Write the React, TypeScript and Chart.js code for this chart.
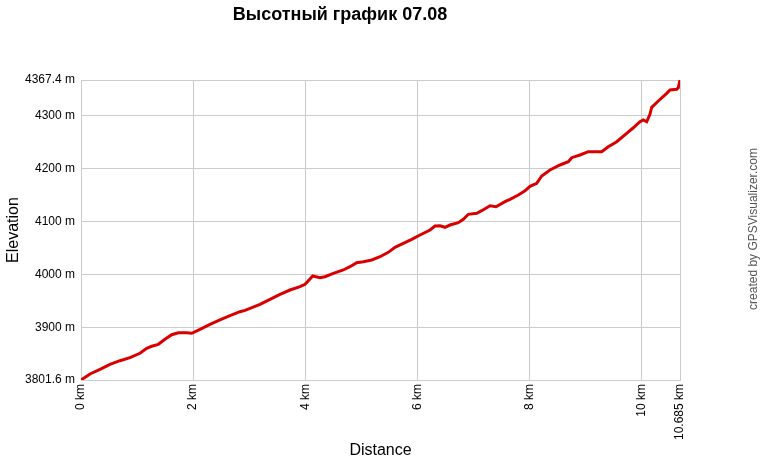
import React, { useEffect, useRef } from "react";
import { Chart, registerables } from "chart.js";

Chart.register(...registerables);

const titleText = "Высотный график 07.08";
const xTitle = "Distance";
const yTitle = "Elevation";
const watermark = "created by GPSVisualizer.com";

const distanceKm = [
  0, 0.161, 0.339, 0.517, 0.696, 0.874, 1.052, 1.172, 1.261, 1.379, 1.498, 1.618, 1.736, 1.885, 1.975,
  2.123, 2.301, 2.479, 2.658, 2.836, 2.925, 3.015, 3.193, 3.371, 3.55, 3.728, 3.907, 3.996, 4.085, 4.133,
  4.263, 4.352, 4.501, 4.679, 4.798, 4.918, 5.036, 5.186, 5.334, 5.482, 5.601, 5.749, 5.899, 6.047, 6.226,
  6.315, 6.404, 6.493, 6.582, 6.73, 6.82, 6.909, 7.059, 7.148, 7.296, 7.403, 7.563, 7.653, 7.801, 7.92,
  8.009, 8.129, 8.218, 8.366, 8.544, 8.693, 8.753, 8.901, 9.049, 9.169, 9.288, 9.406, 9.556, 9.734, 9.852,
  9.971, 10.03, 10.091, 10.149, 10.18, 10.298, 10.448, 10.507, 10.626, 10.655, 10.685,
];

const elevationM = [
  3801.6, 3812.9, 3821.8, 3831.2, 3838.0, 3843.7, 3852.0, 3861.4, 3865.2, 3868.9, 3878.4, 3887.0, 3890.8, 3890.8, 3889.7,
  3897.2, 3906.6, 3914.8, 3922.9, 3930.4, 3933.0, 3936.8, 3944.4, 3953.8, 3963.2, 3971.3, 3977.6, 3982.1, 3992.1, 3997.7,
  3994.5, 3996.4, 4002.8, 4009.1, 4015.3, 4022.8, 4024.7, 4027.9, 4034.1, 4042.4, 4051.9, 4059.4, 4066.9, 4075.1, 4084.5,
  4092.0, 4092.6, 4089.6, 4093.9, 4098.3, 4104.7, 4114.1, 4116.0, 4120.9, 4130.3, 4128.4, 4137.9, 4142.4, 4150.5, 4158.4,
  4166.9, 4172.6, 4186.3, 4197.7, 4207.1, 4213.3, 4220.9, 4226.0, 4232.2, 4232.2, 4232.2, 4241.6, 4251.0, 4266.9, 4277.3,
  4288.7, 4292.0, 4288.7, 4302.7, 4315.9, 4327.8, 4342.3, 4348.5, 4349.9, 4352.9, 4367.4,
];

const xTicks = [0, 2, 4, 6, 8, 10, 10.685];
const yTicks = [3801.6, 3900, 4000, 4100, 4200, 4300, 4367.4];

const FONT = "'Liberation Sans', Arial, sans-serif";

export default function App() {
  const canvasRef = useRef<HTMLCanvasElement | null>(null);

  useEffect(() => {
    document.body.style.margin = "0";
    const canvas = canvasRef.current;
    if (!canvas) return;

    const watermarkPlugin = {
      id: "watermark",
      afterDraw(chart: any) {
        const ctx = chart.ctx;
        ctx.save();
        ctx.translate(754, 229);
        ctx.rotate(-Math.PI / 2);
        ctx.font = `12px ${FONT}`;
        ctx.fillStyle = "#555555";
        ctx.textAlign = "center";
        ctx.textBaseline = "middle";
        ctx.fillText(watermark, 0, 0);
        ctx.restore();
      },
    };

    const chart = new Chart(canvas, {
      type: "line",
      data: {
        datasets: [
          {
            data: distanceKm.map((d, i) => ({ x: d, y: elevationM[i] })),
            borderColor: "#d80000",
            borderWidth: 3,
            pointRadius: 0,
            tension: 0,
            fill: false,
          },
        ],
      },
      options: {
        responsive: false,
        animation: false,
        layout: { padding: { left: 0, right: 80, top: 0, bottom: 0 } },
        plugins: {
          legend: { display: false },
          tooltip: { enabled: false },
          title: {
            display: true,
            text: titleText,
            color: "#000",
            font: { family: FONT, size: 18, weight: "bold" },
            padding: { top: 4, bottom: 54.4 },
          },
        },
        scales: {
          x: {
            type: "linear",
            min: 0,
            max: 10.685,
            afterBuildTicks: (scale: any) => {
              scale.ticks = xTicks.map((v) => ({ value: v }));
            },
            afterFit: (scale: any) => {
              scale.height = 80;
            },
            grid: { color: "#cccccc", drawTicks: false, lineWidth: 1 },
            border: { color: "#cccccc" },
            ticks: {
              autoSkip: false,
              minRotation: 90,
              maxRotation: 90,
              padding: 4,
              color: "#000",
              font: { family: FONT, size: 12 },
              callback: (v: any) => `${v} km`,
            },
            title: {
              display: true,
              text: xTitle,
              color: "#000",
              font: { family: FONT, size: 16 },
              padding: { top: 0, bottom: 0 },
            },
          },
          y: {
            type: "linear",
            min: 3801.6,
            max: 4367.4,
            afterBuildTicks: (scale: any) => {
              scale.ticks = yTicks.map((v) => ({ value: v }));
            },
            afterFit: (scale: any) => {
              scale.width = 81;
            },
            grid: { color: "#cccccc", drawTicks: false, lineWidth: 1 },
            border: { color: "#cccccc" },
            ticks: {
              padding: 6,
              color: "#000",
              font: { family: FONT, size: 12 },
              callback: (v: any) => `${v} m`,
            },
            title: {
              display: true,
              text: yTitle,
              color: "#000",
              font: { family: FONT, size: 16 },
              padding: { top: 4, bottom: 4 },
            },
          },
        },
      },
      plugins: [watermarkPlugin],
    } as any);

    return () => {
      chart.destroy();
    };
  }, []);

  return (
    <div style={{ width: 760, height: 460 }}>
      <canvas ref={canvasRef} width={760} height={460} />
    </div>
  );
}
